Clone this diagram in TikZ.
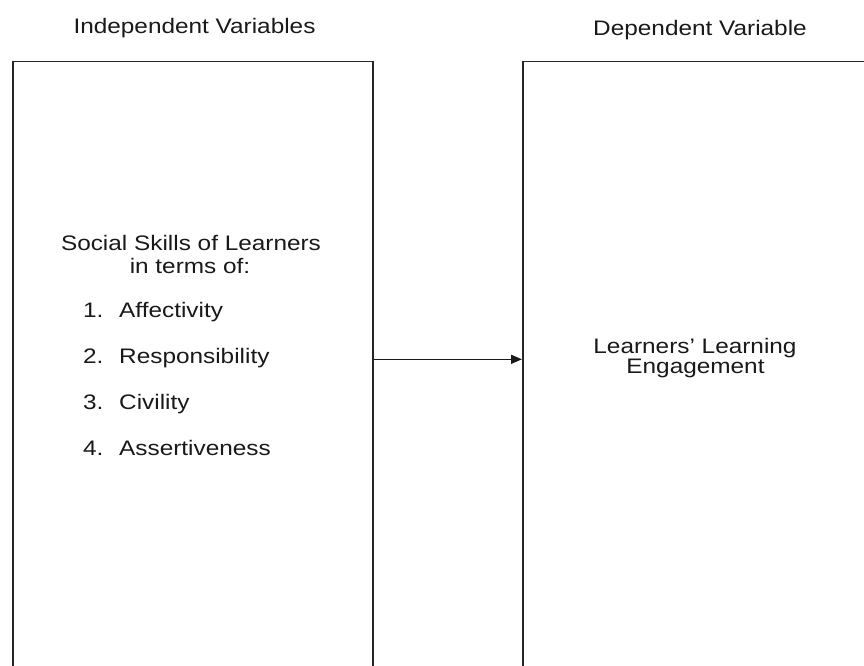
\documentclass[tikz,border=0pt]{standalone}
\usepackage{fontspec}
\setmainfont{Liberation Sans}[FakeStretch=1.16]
\usetikzlibrary{arrows.meta}
\begin{document}
\begin{tikzpicture}[x=1pt,y=-1pt,
  varbox/.style={draw=black!85, line width=1.6pt, minimum width=360pt, minimum height=700pt, anchor=north west, inner sep=0pt},
  txt/.style={font=\fontsize{21}{24}\selectfont, text=black!90, inner sep=0pt, anchor=base},
  itemtxt/.style={txt, anchor=base west},
  link/.style={draw=black!90, line width=1.5pt, -{Triangle[length=11pt,width=9pt]}}]
\useasboundingbox (0,0) rectangle (864,666);
\clip (0,0) rectangle (864,666);
\node[varbox] (iv) at (12,60.7) {};
\node[varbox] (dv) at (522,60.7) {};
\coordinate (ay) at (0,359.3);
\draw[link] (iv.east |- ay) -- (dv.west |- ay);
\node[txt] (ivt) at (194.5,34) {Independent Variables};
\node[txt] (dvt) at (700,36) {Dependent Variable};
\node[txt] (s1) at (191,250) {Social Skills of Learners};
\node[txt] (s2) at (190,273) {in terms of:};
\node[itemtxt] (n1) at (83,317) {1.};
\node[itemtxt] (i1) at (119,317) {Affectivity};
\node[itemtxt] (n2) at (83,363) {2.};
\node[itemtxt] (i2) at (119,363) {Responsibility};
\node[itemtxt] (n3) at (83,409) {3.};
\node[itemtxt] (i3) at (119,409) {Civility};
\node[itemtxt] (n4) at (83,455) {4.};
\node[itemtxt] (i4) at (119,455) {Assertiveness};
\node[txt] (e1) at (695,353) {Learners’ Learning};
\node[txt] (e2) at (695.5,373) {Engagement};
\end{tikzpicture}
\end{document}
